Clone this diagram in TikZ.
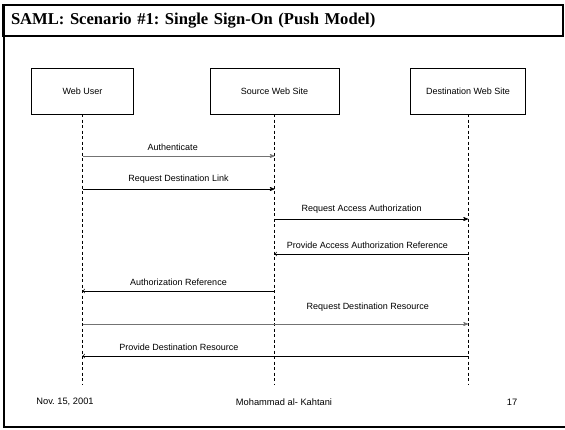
\documentclass[tikz,border=0pt]{standalone}
\usepackage{fontspec}
\setmainfont{Liberation Serif}
\setsansfont{Liberation Sans}
\usetikzlibrary{arrows}
\usetikzlibrary{positioning}
\frenchspacing
\tikzset{> = stealth', small/.style = {font = \sffamily\fontsize{9}{10}\selectfont},
  actor/.style = {draw, small, minimum height = 46, inner sep = 0},
  lifeline/.style = {dash pattern = on 3pt off 2.5pt, line width = 0.6pt},
  call/.style = {->, line width = 0.7pt},
  softcall/.style = {call, draw = black!55},
  reply/.style = {-to, line width = 0.7pt},
  footer/.style = {font = \sffamily\fontsize{9.3}{11}\selectfont}}

\begin{document}
\begin{tikzpicture}[x = 1pt, y = -1pt]
  \useasboundingbox (0,0) rectangle (565,429);
  % frame and title
  \draw [line width = 2pt] (4,5) |- (565,427);
  \node [draw, line width = 2.5pt, minimum height = 31, text width = 544, inner xsep = 8,
    align = left, font = \bfseries\fontsize{16.6}{20}\selectfont] (title) at (283,20.5)
    {SAML: Scenario \#1: Single Sign-On (Push Model)};
  % actors
  \node [actor, minimum width = 102] (user) at (82.5,91) {Web User};
  \node [actor, minimum width = 129] (src) at (274.5,91) {Source Web Site};
  \node [actor, minimum width = 115] (dst) at (468,91) {Destination Web Site};
  \coordinate (end) at (0,385);
  \foreach \a in {user, src, dst}
    \draw [lifeline] (\a.south) -- (\a.south |- end);
  % messages
  \foreach \a/\b/\y/\p/\h/\s/\t in {
      user/src/156/0.47/2/softcall/Authenticate,
      user/src/189/0.5/2/call/Request Destination Link,
      src/dst/219/0.45/2/call/Request Access Authorization,
      dst/src/254/0.52/2/reply/Provide Access Authorization Reference,
      src/user/291/0.5/2/reply/Authorization Reference,
      user/dst/324/0.74/9/softcall/Request Destination Resource,
      dst/user/356/0.75/2/reply/Provide Destination Resource} {
    \coordinate (m) at (0,\y);
    \draw [\s] (\a |- m) -- (\b |- m)
      node [small, above = \h pt, pos = \p] {\t};
  }
  % footer
  \node [footer] (date) at (65,402) {Nov. 15, 2001};
  \node [footer] (author) at (284,402) {Mohammad al- Kahtani};
  \node [footer] (page) at (512,402) {17};
\end{tikzpicture}
\end{document}
